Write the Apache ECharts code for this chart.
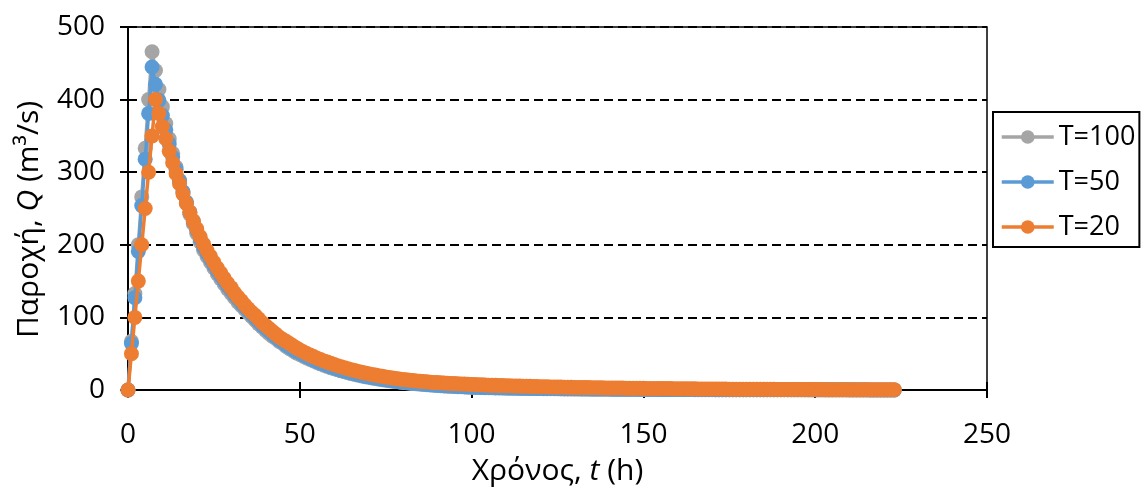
<!DOCTYPE html>
<html>
<head>
<meta charset="utf-8">
<script src="https://cdn.jsdelivr.net/npm/echarts@6/dist/echarts.min.js"></script>
<style>
  html, body { margin: 0; padding: 0; background: #fff; }
  #chart { width: 1143px; height: 493px; }
</style>
</head>
<body>
<div id="chart"></div>
<script>
// Time since start of the storm, hours
const hours = [
  0, 1, 2, 3, 4, 5, 6, 7, 8, 9,
  10, 11, 12, 13, 14, 15, 16, 17, 18, 19,
  20, 21, 22, 23, 24, 25, 26, 27, 28, 29,
  30, 31, 32, 33, 34, 35, 36, 37, 38, 39,
  40, 41, 42, 43, 44, 45, 46, 47, 48, 49,
  50, 51, 52, 53, 54, 55, 56, 57, 58, 59,
  60, 61, 62, 63, 64, 65, 66, 67, 68, 69,
  70, 71, 72, 73, 74, 75, 76, 77, 78, 79,
  80, 81, 82, 83, 84, 85, 86, 87, 88, 89,
  90, 91, 92, 93, 94, 95, 96, 97, 98, 99,
  100, 101, 102, 103, 104, 105, 106, 107, 108, 109,
  110, 111, 112, 113, 114, 115, 116, 117, 118, 119,
  120, 121, 122, 123, 124, 125, 126, 127, 128, 129,
  130, 131, 132, 133, 134, 135, 136, 137, 138, 139,
  140, 141, 142, 143, 144, 145, 146, 147, 148, 149,
  150, 151, 152, 153, 154, 155, 156, 157, 158, 159,
  160, 161, 162, 163, 164, 165, 166, 167, 168, 169,
  170, 171, 172, 173, 174, 175, 176, 177, 178, 179,
  180, 181, 182, 183, 184, 185, 186, 187, 188, 189,
  190, 191, 192, 193, 194, 195, 196, 197, 198, 199,
  200, 201, 202, 203, 204, 205, 206, 207, 208, 209,
  210, 211, 212, 213, 214, 215, 216, 217, 218, 219,
  220, 221, 222, 223
];

// Discharge (m3/s), return period T = 100 years
const qT100 = [
  0, 67, 133, 200, 266, 333, 400, 466, 440, 414,
  390, 367, 346, 326, 307, 289, 272, 257, 242, 229,
  216, 204, 193, 184, 176, 168, 160, 153, 146, 139,
  133, 127, 121, 116, 111, 106, 101, 96, 91, 87,
  82, 78, 74, 71, 67, 64, 60, 57, 54, 51,
  49, 46.5, 44.2, 42.0, 39.9, 37.9, 36.0, 34.2, 32.5, 30.8,
  29.3, 27.8, 26.4, 25.1, 23.8, 22.6, 21.5, 20.4, 19.4, 18.4,
  17.5, 16.6, 15.8, 15.0, 14.2, 13.5, 12.8, 12.2, 11.6, 11.0,
  10.4, 9.9, 9.4, 8.9, 8.5, 8.1, 7.7, 7.3, 6.9, 6.6,
  6.2, 5.9, 5.6, 5.3, 5.1, 4.8, 4.6, 4.4, 4.2, 4.0,
  3.8, 3.6, 3.5, 3.3, 3.2, 3.1, 3.0, 2.9, 2.8, 2.7,
  2.6, 2.5, 2.4, 2.4, 2.3, 2.2, 2.1, 2.1, 2.0, 1.9,
  1.9, 1.8, 1.8, 1.7, 1.7, 1.6, 1.6, 1.5, 1.5, 1.4,
  1.4, 1.4, 1.3, 1.3, 1.3, 1.2, 1.2, 1.2, 1.1, 1.1,
  1.1, 1.0, 1.0, 1.0, 1.0, 0.9, 0.9, 0.9, 0.9, 0.8,
  0.8, 0.8, 0.8, 0.8, 0.7, 0.7, 0.7, 0.7, 0.7, 0.6,
  0.6, 0.6, 0.6, 0.6, 0.6, 0.5, 0.5, 0.5, 0.5, 0.5,
  0.5, 0.5, 0.4, 0.4, 0.4, 0.4, 0.4, 0.4, 0.4, 0.3,
  0.3, 0.3, 0.3, 0.3, 0.3, 0.3, 0.3, 0.3, 0.3, 0.3,
  0.3, 0.3, 0.3, 0.2, 0.2, 0.2, 0.2, 0.2, 0.2, 0.2,
  0.2, 0.2, 0.2, 0.2, 0.2, 0.2, 0.2, 0.2, 0.2, 0.2,
  0.1, 0.1, 0.1, 0.1, 0.1, 0.1, 0.1, 0.1, 0.1, 0.1,
  0.1, 0.1, 0.1, 0.1
];

// Discharge (m3/s), return period T = 50 years
const qT50 = [
  0, 64, 127, 191, 254, 318, 381, 445, 421, 399,
  378, 358, 339, 321, 304, 288, 273, 259, 245, 232,
  220, 208, 197, 188, 180, 172, 164, 157, 150, 143,
  137, 131, 125, 119, 114, 109, 104, 99, 94, 89,
  85, 81, 77, 73, 69, 66, 62, 59, 56, 53,
  51, 48.3, 45.9, 43.6, 41.4, 39.3, 37.3, 35.4, 33.6, 31.9,
  30.3, 28.8, 27.4, 26.0, 24.7, 23.5, 22.3, 21.2, 20.1, 19.1,
  18.1, 17.2, 16.4, 15.6, 14.8, 14.1, 13.4, 12.7, 12.1, 11.5,
  10.9, 10.4, 9.9, 9.4, 8.9, 8.5, 8.1, 7.7, 7.3, 7.0,
  6.6, 6.3, 6.0, 5.7, 5.4, 5.2, 4.9, 4.7, 4.5, 4.3,
  4.1, 3.9, 3.8, 3.6, 3.5, 3.4, 3.3, 3.2, 3.1, 3.0,
  2.9, 2.8, 2.7, 2.6, 2.5, 2.5, 2.4, 2.3, 2.3, 2.2,
  2.1, 2.1, 2.0, 2.0, 1.9, 1.9, 1.8, 1.8, 1.7, 1.7,
  1.6, 1.6, 1.5, 1.5, 1.5, 1.4, 1.4, 1.4, 1.3, 1.3,
  1.3, 1.2, 1.2, 1.2, 1.1, 1.1, 1.1, 1.0, 1.0, 1.0,
  1.0, 0.9, 0.9, 0.9, 0.9, 0.8, 0.8, 0.8, 0.8, 0.8,
  0.7, 0.7, 0.7, 0.7, 0.7, 0.6, 0.6, 0.6, 0.6, 0.6,
  0.6, 0.5, 0.5, 0.5, 0.5, 0.5, 0.5, 0.5, 0.4, 0.4,
  0.4, 0.4, 0.4, 0.4, 0.4, 0.4, 0.4, 0.3, 0.3, 0.3,
  0.3, 0.3, 0.3, 0.3, 0.3, 0.3, 0.3, 0.3, 0.2, 0.2,
  0.2, 0.2, 0.2, 0.2, 0.2, 0.2, 0.2, 0.2, 0.2, 0.2,
  0.2, 0.2, 0.2, 0.2, 0.2, 0.2, 0.1, 0.1, 0.1, 0.1,
  0.1, 0.1, 0.1, 0.1
];

// Discharge (m3/s), return period T = 20 years
const qT20 = [
  0, 50, 100, 150, 200, 250, 300, 350, 400, 381,
  363, 346, 329, 313, 298, 284, 270, 257, 245, 233,
  222, 211, 201, 192, 184, 176, 168, 161, 154, 147,
  141, 134, 128, 123, 117, 112, 107, 103, 98, 93,
  89, 85, 81, 77, 73, 70, 67, 64, 61, 58,
  55, 52.6, 50.3, 48.1, 46.0, 43.9, 42.0, 40.1, 38.4, 36.7,
  35.1, 33.5, 32.0, 30.6, 29.3, 28.0, 26.8, 25.6, 24.5, 23.4,
  22.4, 21.4, 20.5, 19.6, 18.8, 18.0, 17.2, 16.5, 15.8, 15.2,
  14.6, 14.0, 13.5, 13.0, 12.5, 12.0, 11.6, 11.2, 10.8, 10.5,
  10.2, 9.9, 9.6, 9.3, 9.0, 8.8, 8.5, 8.3, 8.1, 7.9,
  7.7, 7.5, 7.3, 7.1, 6.9, 6.7, 6.6, 6.4, 6.2, 6.1,
  5.9, 5.8, 5.6, 5.5, 5.4, 5.2, 5.1, 5.0, 4.9, 4.7,
  4.6, 4.5, 4.4, 4.3, 4.2, 4.1, 4.0, 3.9, 3.8, 3.7,
  3.6, 3.5, 3.4, 3.4, 3.3, 3.2, 3.1, 3.1, 3.0, 2.9,
  2.9, 2.8, 2.7, 2.7, 2.6, 2.5, 2.5, 2.4, 2.4, 2.3,
  2.3, 2.2, 2.2, 2.1, 2.1, 2.0, 2.0, 1.9, 1.9, 1.8,
  1.8, 1.7, 1.7, 1.7, 1.6, 1.6, 1.5, 1.5, 1.5, 1.4,
  1.4, 1.4, 1.3, 1.3, 1.3, 1.2, 1.2, 1.2, 1.1, 1.1,
  1.1, 1.0, 1.0, 1.0, 1.0, 0.9, 0.9, 0.9, 0.9, 0.8,
  0.8, 0.8, 0.8, 0.7, 0.7, 0.7, 0.7, 0.7, 0.6, 0.6,
  0.6, 0.6, 0.6, 0.5, 0.5, 0.5, 0.5, 0.5, 0.5, 0.4,
  0.4, 0.4, 0.4, 0.4, 0.4, 0.4, 0.3, 0.3, 0.3, 0.3,
  0.3, 0.3, 0.3, 0.3
];

const seriesNames = ['T=100', 'T=50', 'T=20'];
const seriesColors = ['#A5A5A5', '#5B9BD5', '#ED7D31'];
const seriesValues = [qT100, qT50, qT20];

const FONT = '"Open Sans", "Noto Sans", sans-serif';
const TEXT = { fontFamily: FONT, fontSize: 28, color: '#000' };
const TITLE = { fontFamily: FONT, fontSize: 30, color: '#000' };

const chart = echarts.init(document.getElementById('chart'), null, { renderer: 'canvas' });

const xTicks = { min: 0, max: 250, interval: 50 };
const yTicks = { min: 0, max: 500, interval: 100 };

const option = {
  animation: false,
  grid: {
    left: 128, right: 156, top: 27, bottom: 103,
    show: true, borderColor: '#000', borderWidth: 1.5, backgroundColor: 'transparent'
  },
  legend: {
    orient: 'vertical',
    left: 993, top: 112,
    padding: [9, 4, 4, 7],
    itemGap: 13,
    itemWidth: 52, itemHeight: 17,
    borderColor: '#000', borderWidth: 2,
    backgroundColor: '#fff',
    data: seriesNames,
    lineStyle: { width: 3.5 },
    textStyle: { fontFamily: FONT, fontSize: 27, color: '#000', lineHeight: 32 }
  },
  xAxis: [
    {
      type: 'value', ...xTicks,
      name: '{n|Χρόνος, }{i|t}{n| (h)}',
      nameLocation: 'middle', nameGap: 66,
      nameTextStyle: {
        rich: {
          n: { ...TITLE },
          i: { ...TITLE, fontStyle: 'italic' }
        }
      },
      axisLine: { show: true, onZero: false, lineStyle: { color: '#000', width: 2 } },
      axisTick: { show: true, inside: false, length: 8, lineStyle: { color: '#000', width: 2 } },
      axisLabel: { ...TEXT, margin: 31 },
      splitLine: { show: false }
    },
    {
      // second copy of the axis carries the inward half of the crossing ticks
      type: 'value', ...xTicks, position: 'bottom',
      axisLine: { show: false },
      axisTick: { show: true, inside: true, length: 8, lineStyle: { color: '#000', width: 2 } },
      axisLabel: { show: false },
      splitLine: { show: false }
    }
  ],
  yAxis: [
    {
      type: 'value', ...yTicks,
      name: '{n|Παροχή, }{i|Q}{n| (m³/s)}',
      nameLocation: 'middle', nameGap: 84,
      nameTextStyle: {
        padding: [0, 22, 0, 0],
        rich: {
          n: { ...TITLE },
          i: { ...TITLE, fontStyle: 'italic' }
        }
      },
      axisLine: { show: true, onZero: false, lineStyle: { color: '#000', width: 2 } },
      axisTick: { show: true, inside: false, length: 8, lineStyle: { color: '#000', width: 2 } },
      axisLabel: { ...TEXT, margin: 23 },
      splitLine: { show: true, lineStyle: { color: '#000', width: 2, type: [9, 5] } }
    },
    {
      type: 'value', ...yTicks, position: 'left',
      axisLine: { show: false },
      axisTick: { show: true, inside: true, length: 8, lineStyle: { color: '#000', width: 2 } },
      axisLabel: { show: false },
      splitLine: { show: false }
    }
  ],
  series: seriesNames.map((name, k) => ({
    name,
    type: 'line',
    xAxisIndex: 0,
    yAxisIndex: 0,
    data: hours.map((h, i) => [h, seriesValues[k][i]]),
    showSymbol: true,
    showAllSymbol: true,
    symbol: 'circle',
    symbolSize: 15,
    clip: false,
    z: 2 + k,
    lineStyle: { color: seriesColors[k], width: 3.5 },
    itemStyle: { color: seriesColors[k], borderColor: seriesColors[k], borderWidth: 0 },
    emphasis: { disabled: true }
  }))
};

chart.setOption(option);
</script>
</body>
</html>
